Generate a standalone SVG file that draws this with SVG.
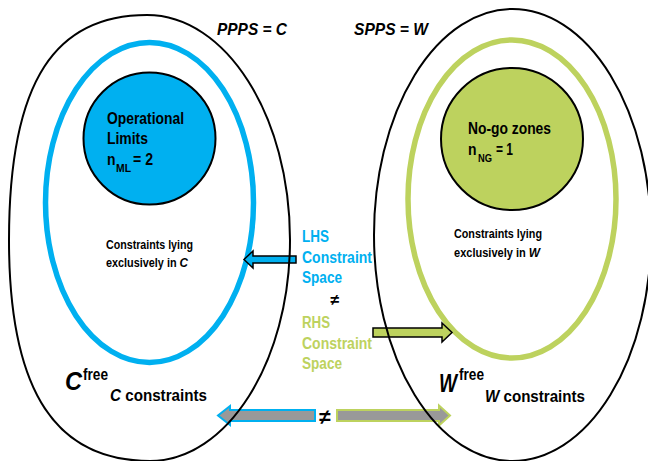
<svg xmlns="http://www.w3.org/2000/svg" width="648" height="461" viewBox="0 0 648 461">
  <style>
    text { font-family: "Liberation Sans", Arial, sans-serif; font-weight: bold; fill: #000; }
    .outer { fill: none; stroke: #000; stroke-width: 2; }
    .inner-c { fill: none; stroke: #00B0F0; stroke-width: 5.5; }
    .inner-w { fill: none; stroke: #BDD25E; stroke-width: 5.5; }
    .core { stroke: #000; stroke-width: 2; }
    .lbl { font-size: 16px; }
    .small { font-size: 12.5px; }
    .blue { fill: #00B0F0; }
    .green { fill: #BDD25E; }
    .it { font-style: italic; }
  </style>

  <rect width="648" height="461" fill="#fff"/>

  <!-- inner constraint regions -->
  <g id="c-exclusive">
    <ellipse class="inner-c" cx="149.5" cy="202.5" rx="104" ry="160"/>
    <text class="small" x="106" y="249" textLength="87" lengthAdjust="spacingAndGlyphs">Constraints lying</text>
    <text class="small" x="106" y="267" textLength="82" lengthAdjust="spacingAndGlyphs">exclusively in <tspan class="it" font-size="13.5">C</tspan></text>
  </g>
  <g id="w-exclusive">
    <ellipse class="inner-w" cx="512" cy="199" rx="104" ry="159"/>
    <text class="small" x="454" y="238" textLength="88" lengthAdjust="spacingAndGlyphs">Constraints lying</text>
    <text class="small" x="454" y="257" textLength="86" lengthAdjust="spacingAndGlyphs">exclusively in <tspan class="it" font-size="13.5">W</tspan></text>
  </g>

  <g id="operational-limits">
    <circle class="core" cx="149.5" cy="138.5" r="66" fill="#00B0F0"/>
    <text class="lbl" x="107" y="124" textLength="77" lengthAdjust="spacingAndGlyphs">Operational</text>
    <text class="lbl" x="107" y="144" textLength="41" lengthAdjust="spacingAndGlyphs">Limits</text>
    <text class="lbl" x="107" y="165" textLength="8.5" lengthAdjust="spacingAndGlyphs">n</text>
    <text x="116" y="172" font-size="10.5" textLength="15" lengthAdjust="spacingAndGlyphs">ML</text>
    <text class="lbl" x="133" y="165" textLength="20" lengthAdjust="spacingAndGlyphs">= 2</text>
  </g>
  <g id="no-go-zones">
    <circle class="core" cx="512" cy="139" r="71" fill="#BDD25E"/>
    <text class="lbl" x="468" y="134" textLength="83" lengthAdjust="spacingAndGlyphs">No-go zones</text>
    <text class="lbl" x="468" y="155" textLength="8.5" lengthAdjust="spacingAndGlyphs">n</text>
    <text x="478" y="162" font-size="10.5" textLength="14" lengthAdjust="spacingAndGlyphs">NG</text>
    <text class="lbl" x="496" y="155" textLength="17" lengthAdjust="spacingAndGlyphs">= 1</text>
  </g>

  <!-- connectors -->
  <g id="connectors" stroke-linejoin="miter">
    <!-- LHS constraint space points into C -->
    <path d="M296,256 L253,256 L253,251 L244,259.5 L253,268 L253,263 L296,263 Z" fill="#00B0F0" stroke="#000" stroke-width="1.5"/>
    <!-- RHS constraint space points into W -->
    <path d="M373,328 L442,328 L442,323 L452,332.5 L442,342 L442,337 L373,337 Z" fill="#BDD25E" stroke="#000" stroke-width="1.5"/>
    <!-- free constraints comparison -->
    <path d="M315,410 L230,410 L230,406 L218,415.5 L230,425 L230,421 L315,421 Z" fill="#999" stroke="#00B0F0" stroke-width="2"/>
    <path d="M337,410 L439,410 L439,405.5 L450,415.5 L439,425.5 L439,421 L337,421 Z" fill="#999" stroke="#BDD25E" stroke-width="2"/>
  </g>

  <!-- centre labels -->
  <g id="lhs-space">
    <text class="lbl blue" x="302" y="242" textLength="27" lengthAdjust="spacingAndGlyphs">LHS</text>
    <text class="lbl blue" x="302" y="263" textLength="70" lengthAdjust="spacingAndGlyphs">Constraint</text>
    <text class="lbl blue" x="302" y="283" textLength="40" lengthAdjust="spacingAndGlyphs">Space</text>
  </g>
  <text x="335" y="305" font-size="16" text-anchor="middle">≠</text>
  <g id="rhs-space">
    <text class="lbl green" x="302" y="328" textLength="28" lengthAdjust="spacingAndGlyphs">RHS</text>
    <text class="lbl green" x="302" y="349" textLength="70" lengthAdjust="spacingAndGlyphs">Constraint</text>
    <text class="lbl green" x="302" y="369" textLength="40" lengthAdjust="spacingAndGlyphs">Space</text>
  </g>
  <text x="325" y="424" font-size="21" text-anchor="middle">≠</text>

  <!-- outer spaces -->
  <g id="pps-c">
    <path class="outer" d="M147,15 C226,15 290,116 290,240 C290,362 227,461 150,461 C58,461 9,395 9,240 C9,78 57,15 147,15 Z"/>
    <text class="it" x="217" y="35" font-size="17" textLength="70" lengthAdjust="spacingAndGlyphs">PPPS = C</text>
    <text class="it" x="65" y="390" font-size="25" textLength="17" lengthAdjust="spacingAndGlyphs">C</text>
    <text x="83" y="380" font-size="16" textLength="25" lengthAdjust="spacingAndGlyphs">free</text>
    <text class="lbl" x="110" y="401" textLength="97" lengthAdjust="spacingAndGlyphs"><tspan class="it">C</tspan> constraints</text>
  </g>
  <g id="sps-w">
    <ellipse class="outer" cx="512.5" cy="235" rx="138.5" ry="226"/>
    <text class="it" x="354" y="35" font-size="17" textLength="74" lengthAdjust="spacingAndGlyphs">SPPS = W</text>
    <text class="it" x="439" y="392" font-size="25" textLength="18" lengthAdjust="spacingAndGlyphs">W</text>
    <text x="459" y="380" font-size="16" textLength="25" lengthAdjust="spacingAndGlyphs">free</text>
    <text class="lbl" x="485" y="402" textLength="100" lengthAdjust="spacingAndGlyphs"><tspan class="it">W</tspan> constraints</text>
  </g>
</svg>
